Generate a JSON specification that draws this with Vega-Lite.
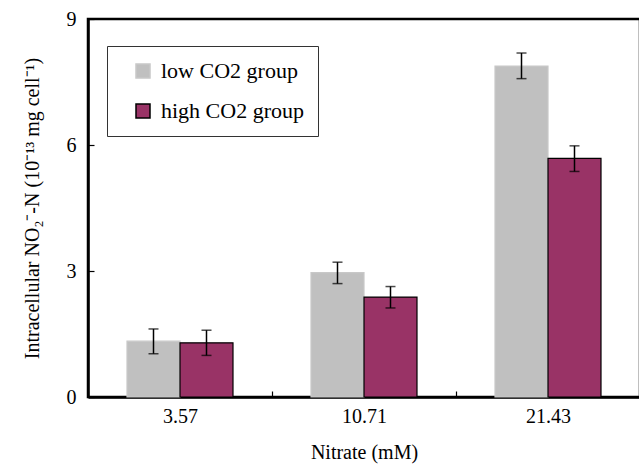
{
  "$schema": "https://vega.github.io/schema/vega-lite/v6.json",
  "autosize": "none",
  "width": 552,
  "height": 378,
  "padding": {"left": 88, "top": 19, "right": 0, "bottom": 68},
  "background": "white",
  "config": {
    "view": {"stroke": "black", "strokeWidth": 2.5},
    "font": "Times New Roman, Liberation Serif, serif",
    "axis": {"grid": false, "domainColor": "black", "domainWidth": 2.5, "tickColor": "black", "tickWidth": 1.2, "labelColor": "black", "titleColor": "black", "labelFont": "Times New Roman, Liberation Serif, serif", "titleFont": "Times New Roman, Liberation Serif, serif", "labelFontSize": 20, "titleFontSize": 20, "titleFontWeight": "normal"}
  },
  "data": {
    "values": [
      {"nitrate": "3.57", "group": "low CO2 group", "value": 1.33, "lo": 1.03, "hi": 1.62},
      {"nitrate": "3.57", "group": "high CO2 group", "value": 1.29, "lo": 0.99, "hi": 1.59},
      {"nitrate": "10.71", "group": "low CO2 group", "value": 2.96, "lo": 2.70, "hi": 3.21},
      {"nitrate": "10.71", "group": "high CO2 group", "value": 2.38, "lo": 2.12, "hi": 2.63},
      {"nitrate": "21.43", "group": "low CO2 group", "value": 7.88, "lo": 7.58, "hi": 8.19},
      {"nitrate": "21.43", "group": "high CO2 group", "value": 5.68, "lo": 5.37, "hi": 5.98}
    ]
  },
  "encoding": {
    "x": {
      "field": "nitrate", "type": "nominal", "sort": ["3.57", "10.71", "21.43"],
      "scale": {"paddingInner": 0, "paddingOuter": 0},
      "axis": {"title": "Nitrate (mM)", "labelAngle": 0, "tickBand": "extent", "tickSize": -6, "labelPadding": 15, "titlePadding": 16}
    },
    "xOffset": {
      "field": "group", "type": "nominal", "sort": ["low CO2 group", "high CO2 group"],
      "scale": {"paddingOuter": 0.736, "paddingInner": 0}
    }
  },
  "layer": [
    {
      "mark": {"type": "bar", "strokeWidth": 1.2},
      "encoding": {
        "y": {
          "field": "value", "type": "quantitative",
          "scale": {"domain": [0, 9], "nice": false},
          "axis": {"values": [0, 3, 6, 9], "tickSize": -6, "labelPadding": 18, "title": "Intracellular NO₂⁻-N (10⁻¹³ mg cell⁻¹)", "titlePadding": 24}
        },
        "fill": {
          "field": "group", "type": "nominal",
          "scale": {"domain": ["low CO2 group", "high CO2 group"], "range": ["#c0c0c0", "#993366"]},
          "legend": {"title": null, "orient": "none", "legendX": 19, "legendY": 27, "strokeColor": "#333333", "padding": 14, "rowPadding": 18, "symbolType": "square", "symbolSize": 196, "symbolOffset": 11, "labelFontSize": 22, "labelOffset": 7, "labelFont": "Times New Roman, Liberation Serif, serif", "labelColor": "black", "fillColor": "white"}
        },
        "stroke": {
          "field": "group", "type": "nominal",
          "scale": {"domain": ["low CO2 group", "high CO2 group"], "range": ["#c8c8c8", "black"]},
          "legend": {"title": null, "orient": "none", "legendX": 19, "legendY": 27, "strokeColor": "#333333", "padding": 14, "rowPadding": 18, "symbolType": "square", "symbolSize": 196, "symbolOffset": 11, "labelFontSize": 22, "labelOffset": 7, "labelFont": "Times New Roman, Liberation Serif, serif", "labelColor": "black", "fillColor": "white"}
        }
      }
    },
    {
      "mark": {"type": "rule", "color": "black", "strokeWidth": 1.5},
      "encoding": {"y": {"field": "lo", "type": "quantitative"}, "y2": {"field": "hi"}}
    },
    {
      "mark": {"type": "tick", "color": "black", "size": 10, "thickness": 1.5},
      "encoding": {"y": {"field": "lo", "type": "quantitative"}}
    },
    {
      "mark": {"type": "tick", "color": "black", "size": 10, "thickness": 1.5},
      "encoding": {"y": {"field": "hi", "type": "quantitative"}}
    }
  ]
}
